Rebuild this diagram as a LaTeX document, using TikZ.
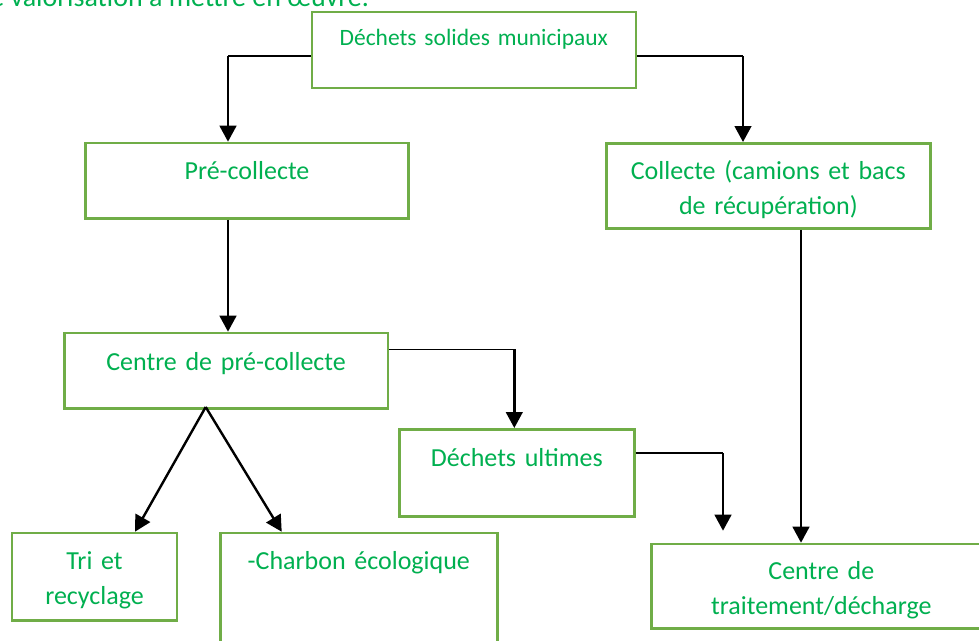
\documentclass[tikz,border=0pt]{standalone}
\usepackage{fontspec}
\setmainfont{Carlito}
\usetikzlibrary{arrows.meta}
\definecolor{vertbord}{HTML}{70AD47}
\definecolor{verttexte}{HTML}{00B050}
\newdimen\px
\px=0.75pt
\tikzset{
  etape/.style n args={3}{draw=vertbord, line width=2pt, text=verttexte, fill=white,
    inner sep=0pt, anchor=north west, align=center,
    font=\fontsize{19.5pt}{26.25pt}\selectfont,
    text width=#1\px, text height=#2\px, text depth=#3\px},
  trait/.style={line width=0.8pt},
  fleche/.style={line width=1.8pt, -{Triangle[width=12.5pt,length=12pt]}}
}

\begin{document}
\begin{tikzpicture}[x=0.75pt,y=-0.75pt]
            \useasboundingbox (0,0) rectangle (979,640);

            \node[anchor=base west, text=verttexte, inner sep=0pt, font=\fontsize{21pt}{26.25pt}\selectfont] (intro) at (-10,6) {e valorisation à mettre en œuvre.};

            \node[etape={324}{33.5}{42.5}, font=\fontsize{17.6pt}{26.25pt}\selectfont] (dsm) at (310.5,10.5) {Déchets solides municipaux};
            \node[etape={323.3}{36.6}{39}] (pre) at (84,141.7) {Pré-collecte};
            \node[etape={324}{36.3}{49}] (col) at (605,142) {Collecte (camions et bacs\\de récupération)};
            \node[etape={323.5}{37.3}{38}] (cpc) at (63,331.7) {Centre de pré-collecte};
            \node[etape={235}{37}{50}] (ult) at (398,428) {Déchets ultimes};
            \node[etape={165}{36.3}{51}] (tri) at (10.7,531.7) {Tri et\\recyclage};
            \node[etape={277}{36.3}{150}] (cha) at (219,531.7) {-Charbon écologique};
            \node[etape={340}{35.6}{49}] (ctd) at (650,542.7) {Centre de\\traitement/décharge};

            \coordinate (k1) at (228,56);
            \coordinate (k2) at (743,56);
            \coordinate (k3) at (801,227);
            \coordinate (k4) at (514.3,349.3);
            \coordinate (k5) at (723,453);
            \coordinate (k6) at (723,530.7);
            \coordinate (k7) at (205.7,407);
            \coordinate (k8) at (135,531.7);
            \coordinate (k9) at (281.7,531.7);

            \draw[trait] (k1 -| dsm.west) -- (k1);
            \draw[fleche] (k1) -- (k1 |- pre.north);
            \draw[trait] (k2 -| dsm.east) -- (k2);
            \draw[fleche] (k2) -- (k2 |- col.north);

            \draw[fleche] (k1 |- pre.south) -- (k1 |- cpc.north);
            \draw[fleche] (k3 |- col.south) -- (k3 |- ctd.north);

            \draw[trait] (k4 -| cpc.east) -- (k4);
            \draw[fleche] (k4) -- (k4 |- ult.north);

            \draw[trait] (k5 -| ult.east) -- (k5);
            \draw[fleche] (k5) -- (k6);

            \draw[fleche] (k7) -- (k8 |- tri.north);
            \draw[fleche] (k7) -- (k9 |- cha.north);
\end{tikzpicture}
\end{document}
